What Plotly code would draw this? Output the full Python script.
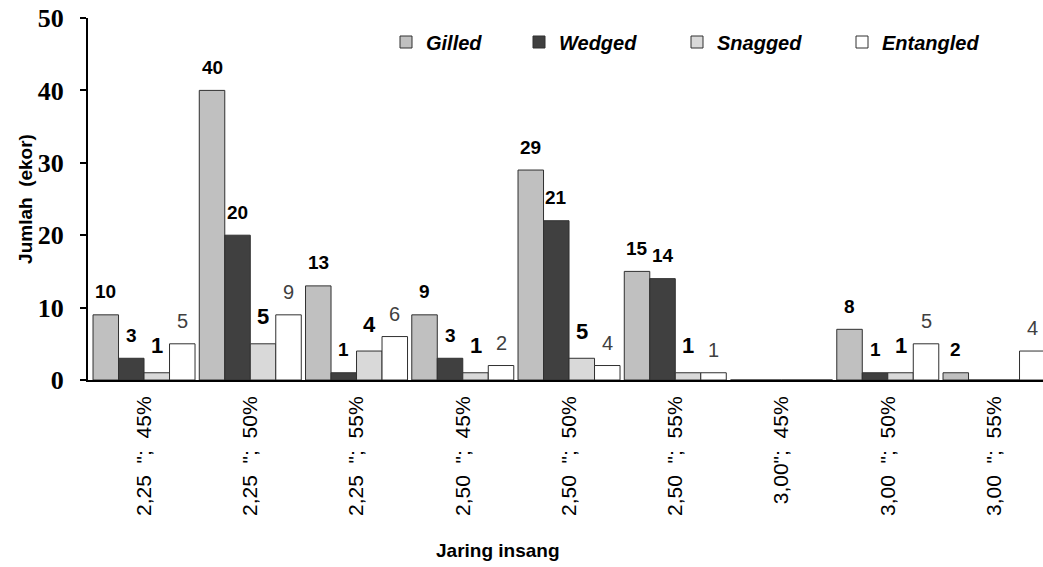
import plotly.graph_objects as go

S = "\u00a0"
categories = [
    f"2,25{S}{S}\";{S}{S}45%", f"2,25{S}{S}\";{S}{S}50%", f"2,25{S}{S}\";{S}{S}55%",
    f"2,50{S}{S}\";{S}{S}45%", f"2,50{S}{S}\";{S}{S}50%", f"2,50{S}{S}\";{S}{S}55%",
    f"3,00\";{S}{S}45%", f"3,00{S}{S}\";{S}{S}50%", f"3,00{S}{S}\";{S}{S}55%",
]
series_names = ["Gilled", "Wedged", "Snagged", "Entangled"]
gilled = [9, 40, 13, 9, 29, 15, 0, 7, 1]
wedged = [3, 20, 1, 3, 22, 14, 0, 1, 0]
snagged = [1, 5, 4, 1, 3, 1, 0, 1, 0]
entangled = [5, 9, 6, 2, 2, 1, 0, 5, 4]

gilled_labels = ["10", "40", "13", "9", "29", "15", "", "8", "2"]
wedged_labels = ["3", "20", "1", "3", "21", "14", "", "1", ""]
snagged_labels = ["1", "5", "4", "1", "5", "1", "", "1", ""]
entangled_labels = ["5", "9", "6", "2", "4", "1", "", "5", "4"]

y_ticks = [0, 10, 20, 30, 40, 50]

values = [gilled, wedged, snagged, entangled]
labels = [gilled_labels, wedged_labels, snagged_labels, entangled_labels]
colors = ["#c0c0c0", "#404040", "#d9d9d9", "#ffffff"]
legend_ids = ["legend", "legend2", "legend3", "legend4"]
label_fonts = [
    dict(family="Liberation Sans", size=19, color="#000000", weight="bold"),
    dict(family="Liberation Sans", size=19, color="#000000", weight="bold"),
    dict(family="Liberation Sans", size=22, color="#000000", weight="bold"),
    dict(family="Liberation Sans", size=20, color="#404040", weight="normal"),
]
label_shift = [23, 23, 27, 23]

# body margin is removed in the page, so the figure fills the window
OFF = 0
W, H = 1043, 567
ml, mr, mt, mb = 88, 0, 18, 567 - 380
pw = W - ml - mr
plot_h = H - mt - mb
cat_px = 106.25
x0 = -0.5 - 2.9 / cat_px
x1 = x0 + pw / cat_px
bar_px = cat_px * 0.96 / 4


def fx(px):
    return (px - OFF - ml) / pw


def fy(py):
    return (plot_h - (py - OFF - mt)) / plot_h


fig = go.Figure()
for i, (name, vals) in enumerate(zip(series_names, values)):
    fig.add_trace(go.Bar(
        x=categories, y=vals, name=name,
        marker=dict(color=colors[i], line=dict(color="#303030", width=1)),
        legend=legend_ids[i],
    ))

annotations = []
for i, labs in enumerate(labels):
    for cat, v, lab in zip(categories, values[i], labs):
        if lab == "":
            continue
        annotations.append(dict(
            x=cat, y=v, xref="x", yref="y", text=lab, showarrow=False,
            xshift=(i - 1.5) * bar_px, yshift=label_shift[i], yanchor="middle",
            font=label_fonts[i],
        ))

annotations.append(dict(
    x=fx(498), y=fy(550),
    xref="paper", yref="paper", text="Jaring insang", showarrow=False,
    xanchor="center", yanchor="middle",
    font=dict(family="Liberation Sans", size=19, color="#000000", weight="bold"),
))

legend_text_px = [423, 556, 714, 879]
legend_common = dict(
    orientation="h", yanchor="middle", xanchor="left",
    y=fy(42),
    bgcolor="rgba(0,0,0,0)", borderwidth=0,
    font=dict(family="Liberation Sans", size=20, color="#000000", weight="bold", style="italic"),
    itemwidth=30,
)
legends = {}
for lid, tx in zip(legend_ids, legend_text_px):
    d = dict(legend_common)
    d["x"] = fx(tx - 37)
    legends[lid] = d

fig.update_layout(
    width=W, height=H,
    margin=dict(l=ml, r=mr, t=mt, b=mb, pad=0),
    paper_bgcolor="#ffffff", plot_bgcolor="#ffffff",
    barmode="group", bargap=0.04, bargroupgap=0,
    showlegend=True,
    annotations=annotations,
    xaxis=dict(
        type="category", range=[x0, x1], automargin=False,
        showline=True, linecolor="#000000", linewidth=2,
        showgrid=False, ticks="", tickangle=-90,
        tickfont=dict(family="Liberation Sans", size=21, color="#000000"),
        ticklabelstandoff=6,
        zeroline=False,
    ),
    yaxis=dict(
        range=[0, 50], tickvals=y_ticks, automargin=False,
        showline=True, linecolor="#000000", linewidth=2,
        ticks="outside", ticklen=6, tickwidth=2, tickcolor="#000000",
        showgrid=False, zeroline=False, ticklabeloverflow="allow",
        tickfont=dict(family="Liberation Serif", size=26, color="#000000", weight="bold"),
        ticklabelstandoff=11,
        title=dict(text="Jumlah  (ekor)", standoff=0,
                   font=dict(family="Liberation Sans", size=19, color="#000000", weight="bold")),
    ),
    **legends,
)

fig.write_html(
    "out.html",
    config={"displayModeBar": False},
    post_script="document.body.style.margin='0';document.body.style.overflow='hidden';",
)
